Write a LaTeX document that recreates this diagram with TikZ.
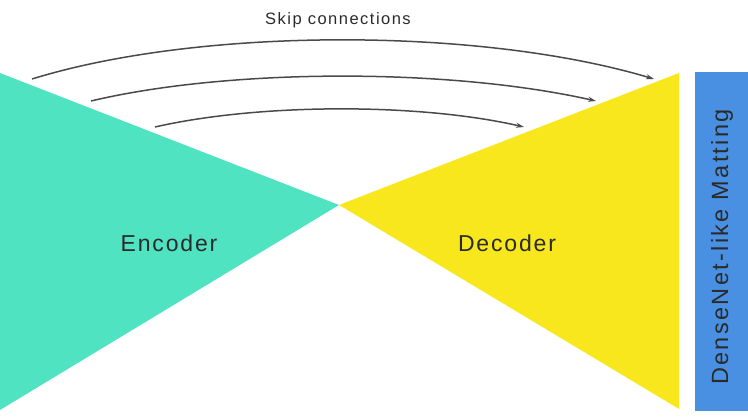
\documentclass[tikz,border=0pt]{standalone}
\usepackage{fontspec}
\setmainfont{Liberation Sans}
\newfontfamily\lblfont[LetterSpace=8]{Liberation Sans}
\newfontfamily\skipfont[LetterSpace=9]{Liberation Sans}
\newfontfamily\sidefont[LetterSpace=10]{Liberation Sans}
\usetikzlibrary{arrows.meta}
\definecolor{enc}{HTML}{50E3C2}
\definecolor{dec}{HTML}{F8E71C}
\definecolor{side}{HTML}{4A90E2}
\definecolor{ink}{HTML}{2A2A2A}
\tikzset{
  skiparrow/.style={draw=ink!85, line width=1.5pt, -{Stealth[length=8pt,width=5pt]}},
  bigtext/.style={text=ink, font=\lblfont\fontsize{23}{27}\selectfont, inner sep=0pt},
}
\begin{document}
\begin{tikzpicture}[x=1pt,y=1pt]
\useasboundingbox (0,0) rectangle (748,416);
% encoder and decoder
\fill[enc] (0,343) -- (339,211) -- (0,6) -- cycle;
\fill[dec] (339,211) -- (679,343) -- (679,7) -- cycle;
\node[bigtext] (encoder) at (169,173) {Encoder};
\node[bigtext] (decoder) at (507,173) {Decoder};
% side box
\node[fill=side, minimum width=53pt, minimum height=339pt, inner sep=0pt, anchor=south west] (matting) at (695,5) {};
\node[rotate=90, text=ink, font=\sidefont\fontsize{23.5}{27}\selectfont, inner sep=0pt] (mattinglabel) at (722,169) {DenseNet-like Matting};
% skip connections
\coordinate (s1) at (32,337);
\coordinate (e1) at (654,337);
\coordinate (s2) at (91,315);
\coordinate (e2) at (596,315);
\coordinate (s3) at (155,289);
\coordinate (e3) at (524,289);
\draw[skiparrow] (s1) .. controls (200,389) and (480,389) .. (e1);
\draw[skiparrow] (s2) .. controls (230,348) and (450,348) .. (e2);
\draw[skiparrow] (s3) .. controls (260,313) and (420,313) .. (e3);
\node[text=ink, font=\skipfont\fontsize{16.5}{19}\selectfont, inner sep=0pt] (skiplabel) at (338,396) {Skip connections};
\end{tikzpicture}
\end{document}
